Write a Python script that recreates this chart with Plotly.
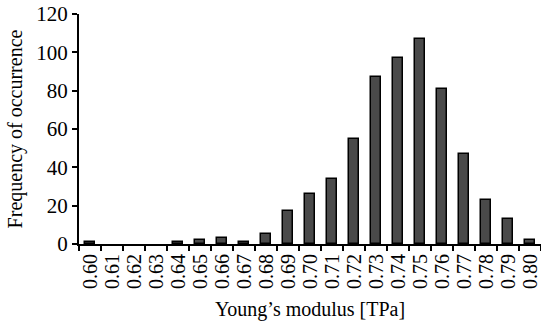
import plotly.graph_objects as go

categories = ["0.60", "0.61", "0.62", "0.63", "0.64", "0.65", "0.66", "0.67", "0.68", "0.69", "0.70",
              "0.71", "0.72", "0.73", "0.74", "0.75", "0.76", "0.77", "0.78", "0.79", "0.80"]
frequency = [1, 0, 0, 0, 1, 2, 3, 1, 5, 17, 26, 34, 55, 87, 97, 107, 81, 47, 23, 13, 2]
y_ticks = [0, 20, 40, 60, 80, 100, 120]

xpos = list(range(len(categories)))

fig = go.Figure(go.Bar(
    x=xpos, y=frequency, width=0.42,
    marker=dict(color="#4a4a4a",
                line=dict(color="black", width=[1.5 if v > 0 else 0 for v in frequency])),
))

font = dict(family="Liberation Serif, Times New Roman, serif", color="black", size=20)

fig.update_layout(
    width=541, height=330,
    margin=dict(l=79, r=0, t=14, b=86, autoexpand=False),
    paper_bgcolor="white", plot_bgcolor="white",
    font=font, showlegend=False, bargap=0,
    xaxis=dict(
        range=[-0.5, 20.5], tickmode="array", tickvals=xpos, ticktext=categories,
        tickangle=-90, ticks="", showgrid=False, zeroline=False,
        showline=True, linecolor="black", linewidth=2,
        ticklabeloverflow="allow",
        minor=dict(tick0=0.5, dtick=1, ticks="outside", ticklen=5, tickcolor="black", tickwidth=1.5),
        title=dict(text="Young’s modulus [TPa]", standoff=14, font=dict(size=20)),
        tickfont=dict(size=20),
    ),
    yaxis=dict(
        range=[0, 120], tickmode="array", tickvals=y_ticks,
        ticks="outside", ticklen=5, tickcolor="black", tickwidth=1.5,
        showgrid=False, zeroline=False, showline=True, linecolor="black", linewidth=2,
        title=dict(text="Frequency of occurrence", standoff=8, font=dict(size=20)),
        tickfont=dict(size=21),
    ),
)

fig.write_html("out.html")
